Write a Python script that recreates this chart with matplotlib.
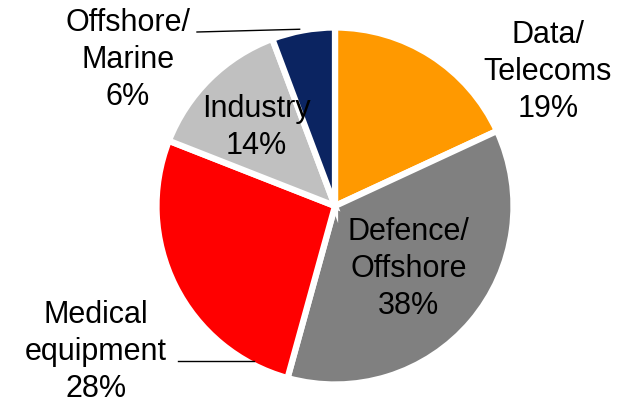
import numpy as np
import matplotlib
matplotlib.use("Agg")
import matplotlib.pyplot as plt

plt.rcParams['font.family'] = ['Liberation Sans', 'DejaVu Sans']

# Revenue split by market segment
segments = ["Data/\nTelecoms", "Defence/\nOffshore", "Medical\nequipment", "Industry", "Offshore/\nMarine"]
shares = [19, 38, 28, 14, 6]
colors = ["#FF9900", "#808080", "#FF0000", "#C0C0C0", "#0B2461"]

W, H = 637, 406
R_PX = 175.0          # pie radius in pixels
CX, CY = 335.0, 207.0  # pie centre in pixels (from top-left)

fig = plt.figure(figsize=(W / 100, H / 100), dpi=100)
ax = fig.add_axes([0, 0, 1, 1])


def px(x, y):
    """Pixel position (origin top-left) to data coordinates."""
    return (x - CX) / R_PX, (CY - y) / R_PX


wedges, _ = ax.pie(shares, colors=colors, startangle=90, counterclock=False,
                   radius=1.02, center=(0, 0), frame=True,
                   wedgeprops=dict(edgecolor="white", linewidth=4.5))
ax.set_xlim(-CX / R_PX, (W - CX) / R_PX)
ax.set_ylim(-(H - CY) / R_PX, CY / R_PX)
ax.set_aspect('equal')
ax.axis('off')

fs = 22
ls = 1.3
labels = [f"{s}\n{v}%" for s, v in zip(segments, shares)]

# inside labels placed at wedge mid-angles
for i, r in [(1, 0.55), (3, 0.64)]:
    w = wedges[i]
    mid = np.deg2rad((w.theta1 + w.theta2) / 2)
    ax.text(r * np.cos(mid), r * np.sin(mid), labels[i], ha="center", va="center",
            fontsize=fs, linespacing=ls, color="black")

# outside labels
x, y = px(548, 72)
ax.text(x, y, labels[0], ha="center", va="center", fontsize=fs, linespacing=ls)
x, y = px(128, 60)
ax.text(x, y, labels[4], ha="center", va="center", fontsize=fs, linespacing=ls)
x, y = px(96, 352)
ax.text(x, y, labels[2], ha="center", va="center", fontsize=fs, linespacing=ls)

# leader line to Offshore/Marine wedge
w = wedges[4]
a = np.deg2rad(w.theta1 + 0.55 * (w.theta2 - w.theta1))
x0, y0 = px(197, 33)
ax.plot([x0, 1.03 * np.cos(a)], [y0, 1.03 * np.sin(a)], color="black", lw=1.0)

# leader line to Medical equipment wedge (horizontal, ends at the arc)
x0, y0 = px(178, 362)
xe = -np.sqrt(max(0.0, 1.0 - y0 ** 2))
ax.plot([x0, xe], [y0, y0], color="black", lw=1.0)

fig.savefig("out.png", dpi=100, facecolor="white")
